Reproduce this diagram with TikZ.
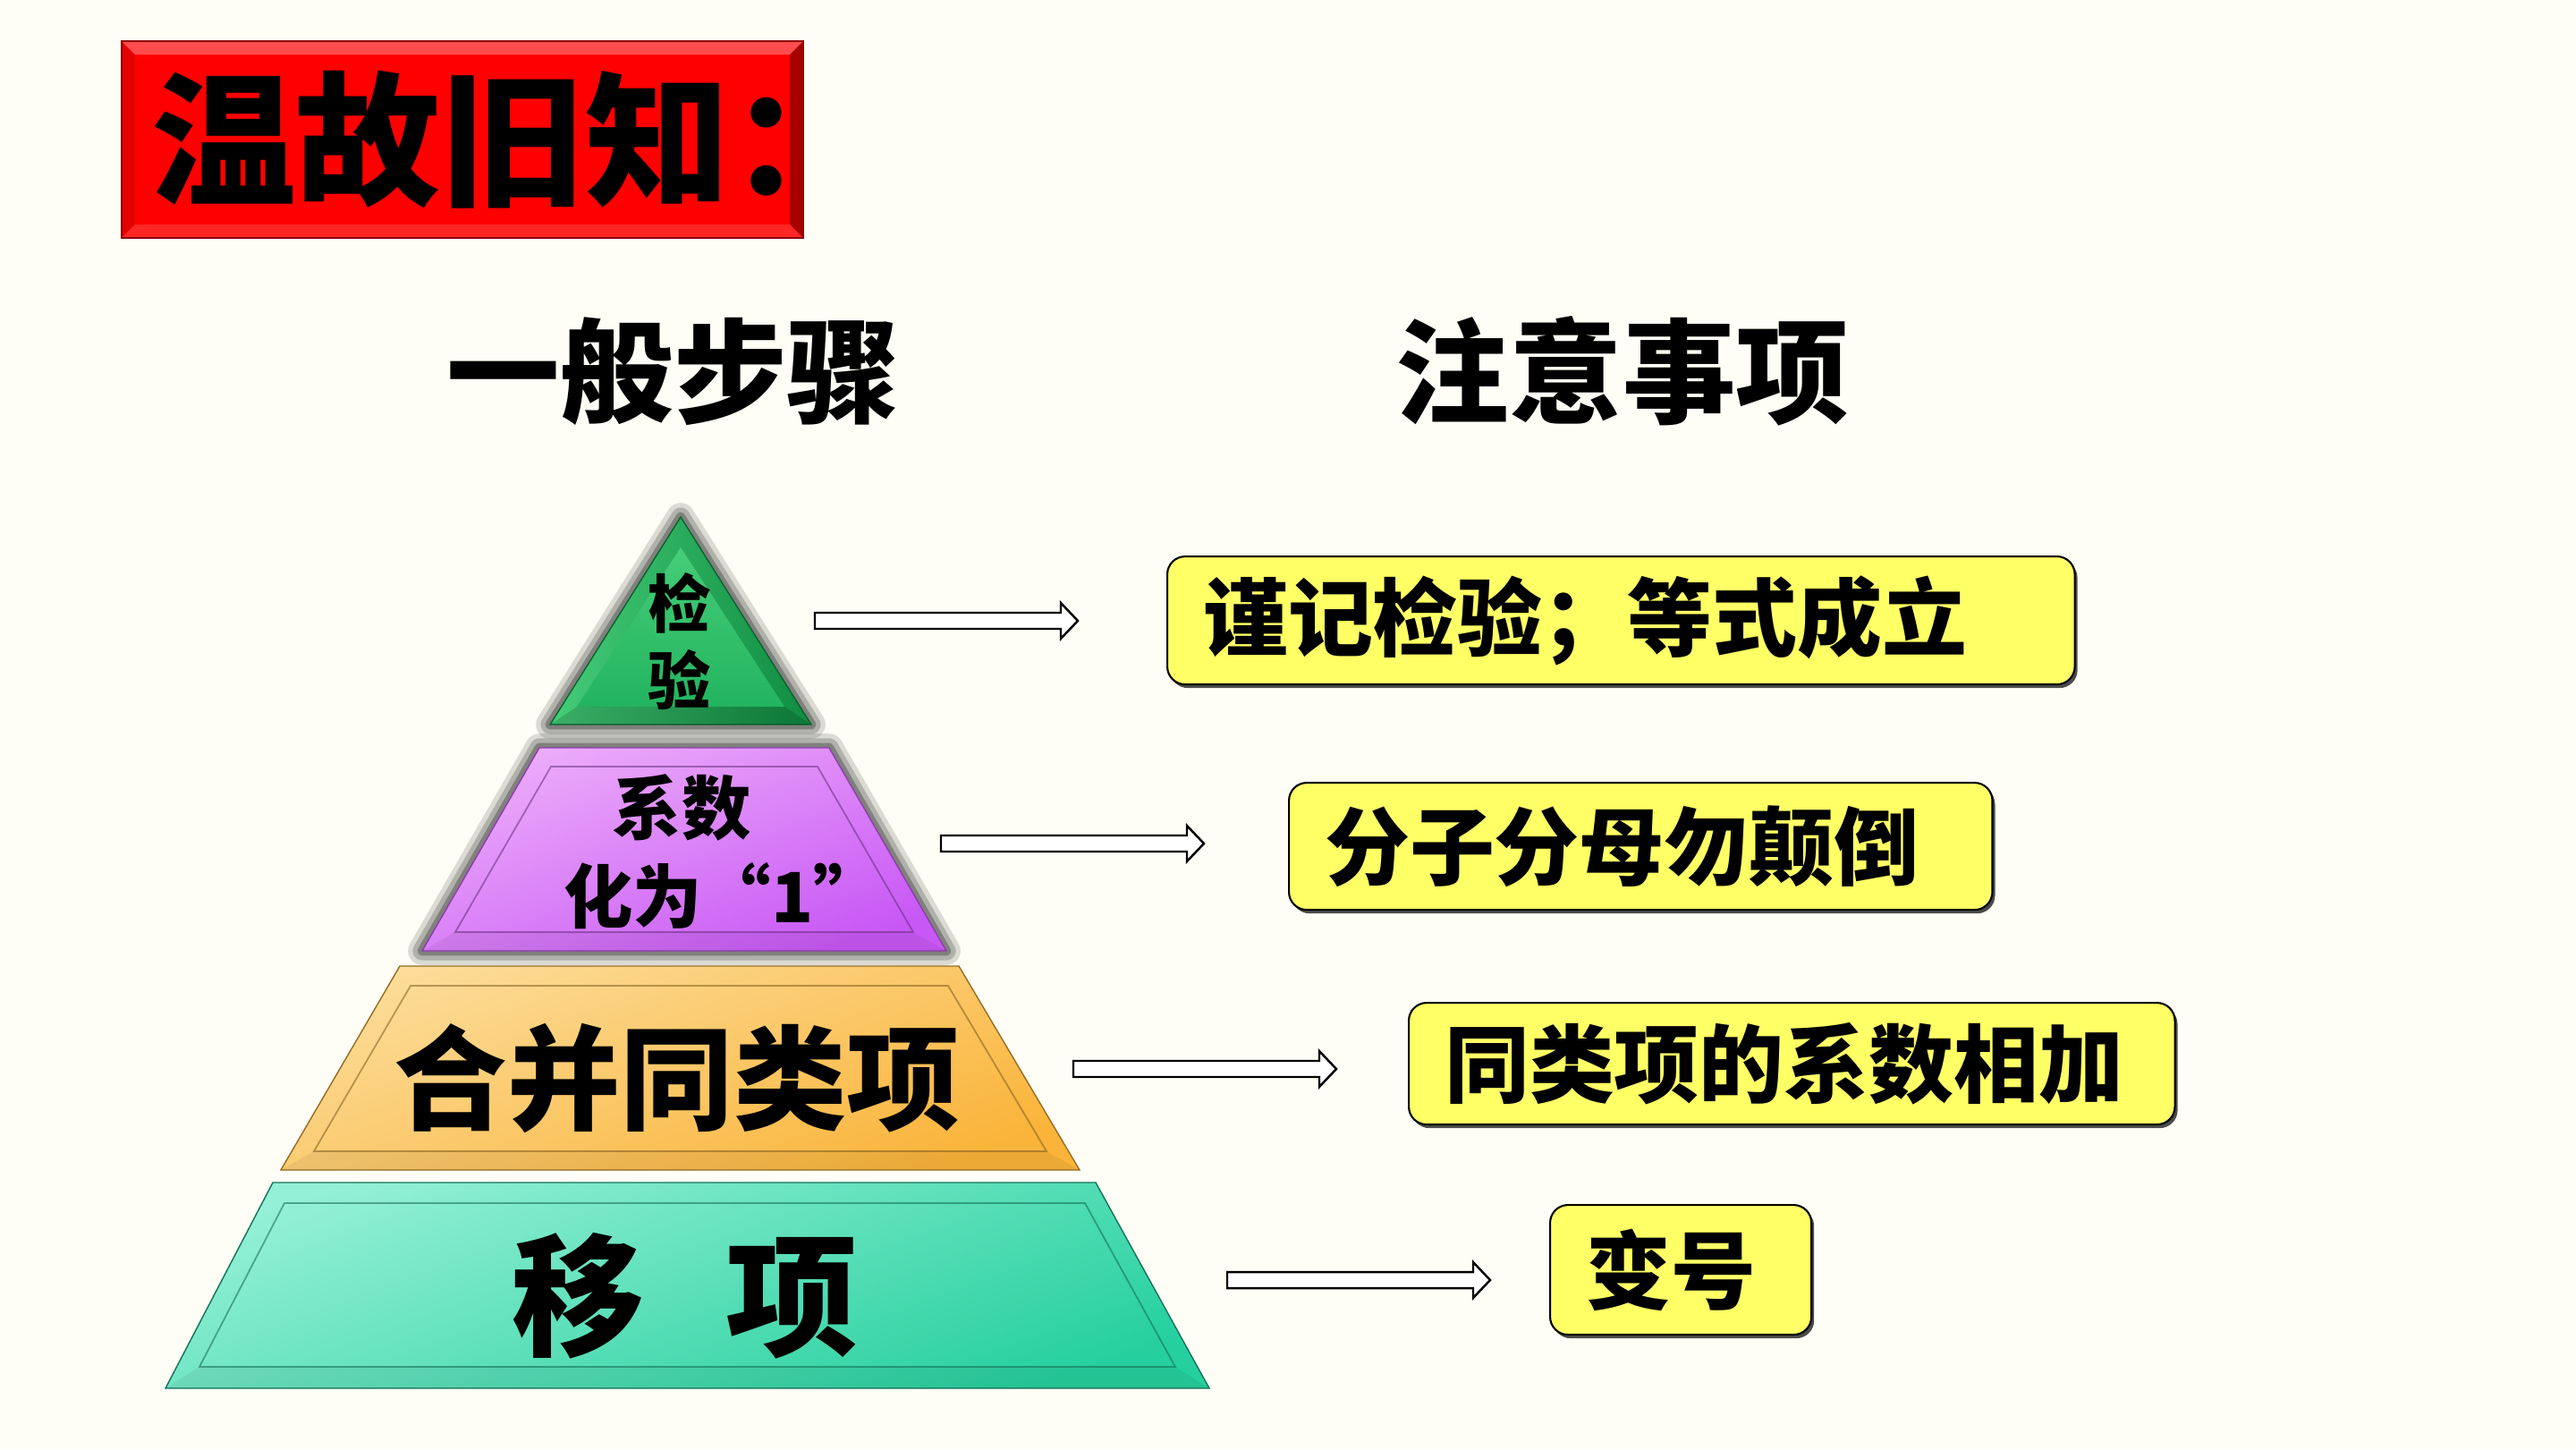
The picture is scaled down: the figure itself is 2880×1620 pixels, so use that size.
\documentclass[tikz,border=0pt]{standalone}
\usepackage{fontspec}
\setmainfont{Noto Sans CJK SC}
\usetikzlibrary{calc,shadows}
\definecolor{bgcol}{RGB}{254,254,246}
\definecolor{titlered}{RGB}{255,0,0}
\definecolor{noteyellow}{RGB}{255,255,102}
\definecolor{glowgray}{RGB}{80,80,80}
\definecolor{checklight}{RGB}{70,205,120}
\definecolor{checkdark}{RGB}{15,140,65}
\definecolor{checkmid}{RGB}{35,180,95}
\definecolor{unittop}{RGB}{236,172,250}
\definecolor{unitbot}{RGB}{200,88,245}
\definecolor{combtop}{RGB}{252,220,152}
\definecolor{combbot}{RGB}{250,180,58}
\definecolor{movetop}{RGB}{148,240,214}
\definecolor{movebot}{RGB}{38,208,158}
\newcommand{\pyrarrow}[2]{%
        \draw[arrowline] ($(#1)+(0,9)$) -- ($(#2)+(-19,9)$) -- ($(#2)+(-19,20)$) -- (#2)
          -- ($(#2)+(-19,-20)$) -- ($(#2)+(-19,-9)$) -- ($(#1)+(0,-9)$) -- cycle;}
\begin{document}
\begin{tikzpicture}[x=0.01cm, y=-0.01cm,
        glow/.style={draw=glowgray, line join=round},
        innerline/.style={line width=0.5pt, draw opacity=0.55},
        arrowline/.style={draw=black, fill=white, line width=0.7pt, line join=miter},
        titlebox/.style={fill=titlered, draw=titlered!55!black, line width=0.6pt,
          minimum width=7.62cm, minimum height=2.2cm, inner sep=0pt,
          font=\fontsize{46}{46}\selectfont\bfseries,
          path picture={
            \fill[white, opacity=0.3] (path picture bounding box.north west) -- (path picture bounding box.north east)
              -- ++(-0.15cm,-0.15cm) -- ([shift={(0.15cm,-0.15cm)}]path picture bounding box.north west) -- cycle;
            \fill[white, opacity=0.15] (path picture bounding box.south west) -- (path picture bounding box.south east)
              -- ++(-0.15cm,0.15cm) -- ([shift={(0.15cm,0.15cm)}]path picture bounding box.south west) -- cycle;
            \fill[black, opacity=0.1] (path picture bounding box.north west) -- ++(0.15cm,-0.15cm)
              -- ([shift={(0.15cm,0.15cm)}]path picture bounding box.south west) -- (path picture bounding box.south west) -- cycle;
            \fill[black, opacity=0.35] (path picture bounding box.north east) -- ++(-0.15cm,-0.15cm)
              -- ([shift={(-0.15cm,0.15cm)}]path picture bounding box.south east) -- (path picture bounding box.south east) -- cycle;}},
        header/.style={font=\fontsize{36}{36}\selectfont\bfseries},
        notebox/.style={fill=noteyellow, draw=black, line width=0.6pt, rounded corners=0.2cm,
          anchor=north west, inner xsep=0.4cm, inner ysep=0pt, align=left,
          font=\fontsize{27}{27}\selectfont\bfseries,
          drop shadow={shadow xshift=0.03cm, shadow yshift=-0.04cm, opacity=0.7, fill=black}}]
        \fill[bgcol] (0,0) rectangle (2880,1620);
        \useasboundingbox (0,0) rectangle (2880,1620);
        \node[titlebox] (title) at (517,156) {\kern0.15em温故旧知：\kern-0.55em};
        \node[header] (steps) at (753,415) {一般步骤};
        \node[header] (tips) at (1814,415) {注意事项};
        \draw[glow, line width=9pt, draw opacity=0.2] (761,578) -- (907,810) -- (615,810) -- cycle;
        \draw[glow, line width=6pt, draw opacity=0.3] (761,578) -- (907,810) -- (615,810) -- cycle;
        \draw[glow, line width=3pt, draw opacity=0.5] (761,578) -- (907,810) -- (615,810) -- cycle;
        \shade[left color=checklight, right color=checkdark, draw=checkdark!70!black, line width=0.4pt] (761,578) -- (907,810) -- (615,810) -- cycle;
        \shade[top color=checklight, bottom color=checkmid] (761,612) -- (877,790) -- (645,790) -- cycle;
        \fill[black, opacity=0.15] (645,790) -- (877,790) -- (907,810) -- (615,810) -- cycle;
        \draw[glow, line width=9pt, draw opacity=0.2] (603,836) -- (927,836) -- (1058,1063) -- (472,1063) -- cycle;
        \draw[glow, line width=6pt, draw opacity=0.3] (603,836) -- (927,836) -- (1058,1063) -- (472,1063) -- cycle;
        \draw[glow, line width=3pt, draw opacity=0.5] (603,836) -- (927,836) -- (1058,1063) -- (472,1063) -- cycle;
        \shade[top color=unittop, bottom color=unitbot, shading angle=20, draw=unitbot!70!black, line width=0.4pt] (603,836) -- (927,836) -- (1058,1063) -- (472,1063) -- cycle;
        \fill[black, opacity=0.06] (509,1042) -- (1021,1042) -- (1058,1063) -- (472,1063) -- cycle;
        \draw[innerline, unitbot!50!black] (616,857) -- (914,857) -- (1021,1042) -- (509,1042) -- cycle;
        \shade[top color=combtop, bottom color=combbot, shading angle=20, draw=combbot!60!black, line width=0.4pt] (447,1080) -- (1072,1080) -- (1207,1308) -- (314,1308) -- cycle;
        \fill[black, opacity=0.06] (351,1287) -- (1170,1287) -- (1207,1308) -- (314,1308) -- cycle;
        \draw[innerline, combbot!50!black] (459,1102) -- (1060,1102) -- (1170,1287) -- (351,1287) -- cycle;
        \shade[top color=movetop, bottom color=movebot, shading angle=20, draw=movebot!55!black, line width=0.4pt] (305,1322) -- (1225,1322) -- (1352,1552) -- (185,1552) -- cycle;
        \fill[black, opacity=0.06] (223,1528) -- (1314,1528) -- (1352,1552) -- (185,1552) -- cycle;
        \draw[innerline, movebot!50!black] (318,1345) -- (1213,1345) -- (1314,1528) -- (223,1528) -- cycle;
        \node[align=center, font=\fontsize{20}{24.7}\selectfont\bfseries] (check) at (760,717) {检\\验};
        \node[align=center, font=\fontsize{22}{28}\selectfont\bfseries] (unit) at (762,952) {系数\\\hspace{1.2em}化为“1”};
        \node[font=\fontsize{36}{36}\selectfont\bfseries] (combine) at (757,1205) {合并同类项};
        \node[font=\fontsize{42}{42}\selectfont\bfseries] (move) at (766,1449) {移\hspace{0.62em}项};
        \node[notebox, minimum height=1.43cm, text width=9.34cm] (noteCheck) at (1304,621) {谨记检验；等式成立};
        \node[notebox, minimum height=1.42cm, text width=7.06cm] (noteUnit) at (1440,874) {分子分母勿颠倒};
        \node[notebox, minimum height=1.36cm, text width=7.76cm] (noteComb) at (1574,1120) {同类项的系数相加};
        \node[notebox, minimum height=1.45cm, text width=2.12cm] (noteMove) at (1732,1346) {变号};
        \coordinate (a1s) at (911,694);
        \coordinate (a1e) at (1205,694);
        \coordinate (a2s) at (1052,943);
        \coordinate (a2e) at (1346,943);
        \coordinate (a3s) at (1200,1195);
        \coordinate (a3e) at (1494,1195);
        \coordinate (a4s) at (1372,1431);
        \coordinate (a4e) at (1666,1431);
        \pyrarrow{a1s}{a1e}
        \pyrarrow{a2s}{a2e}
        \pyrarrow{a3s}{a3e}
        \pyrarrow{a4s}{a4e}
      \end{tikzpicture}
\end{document}
